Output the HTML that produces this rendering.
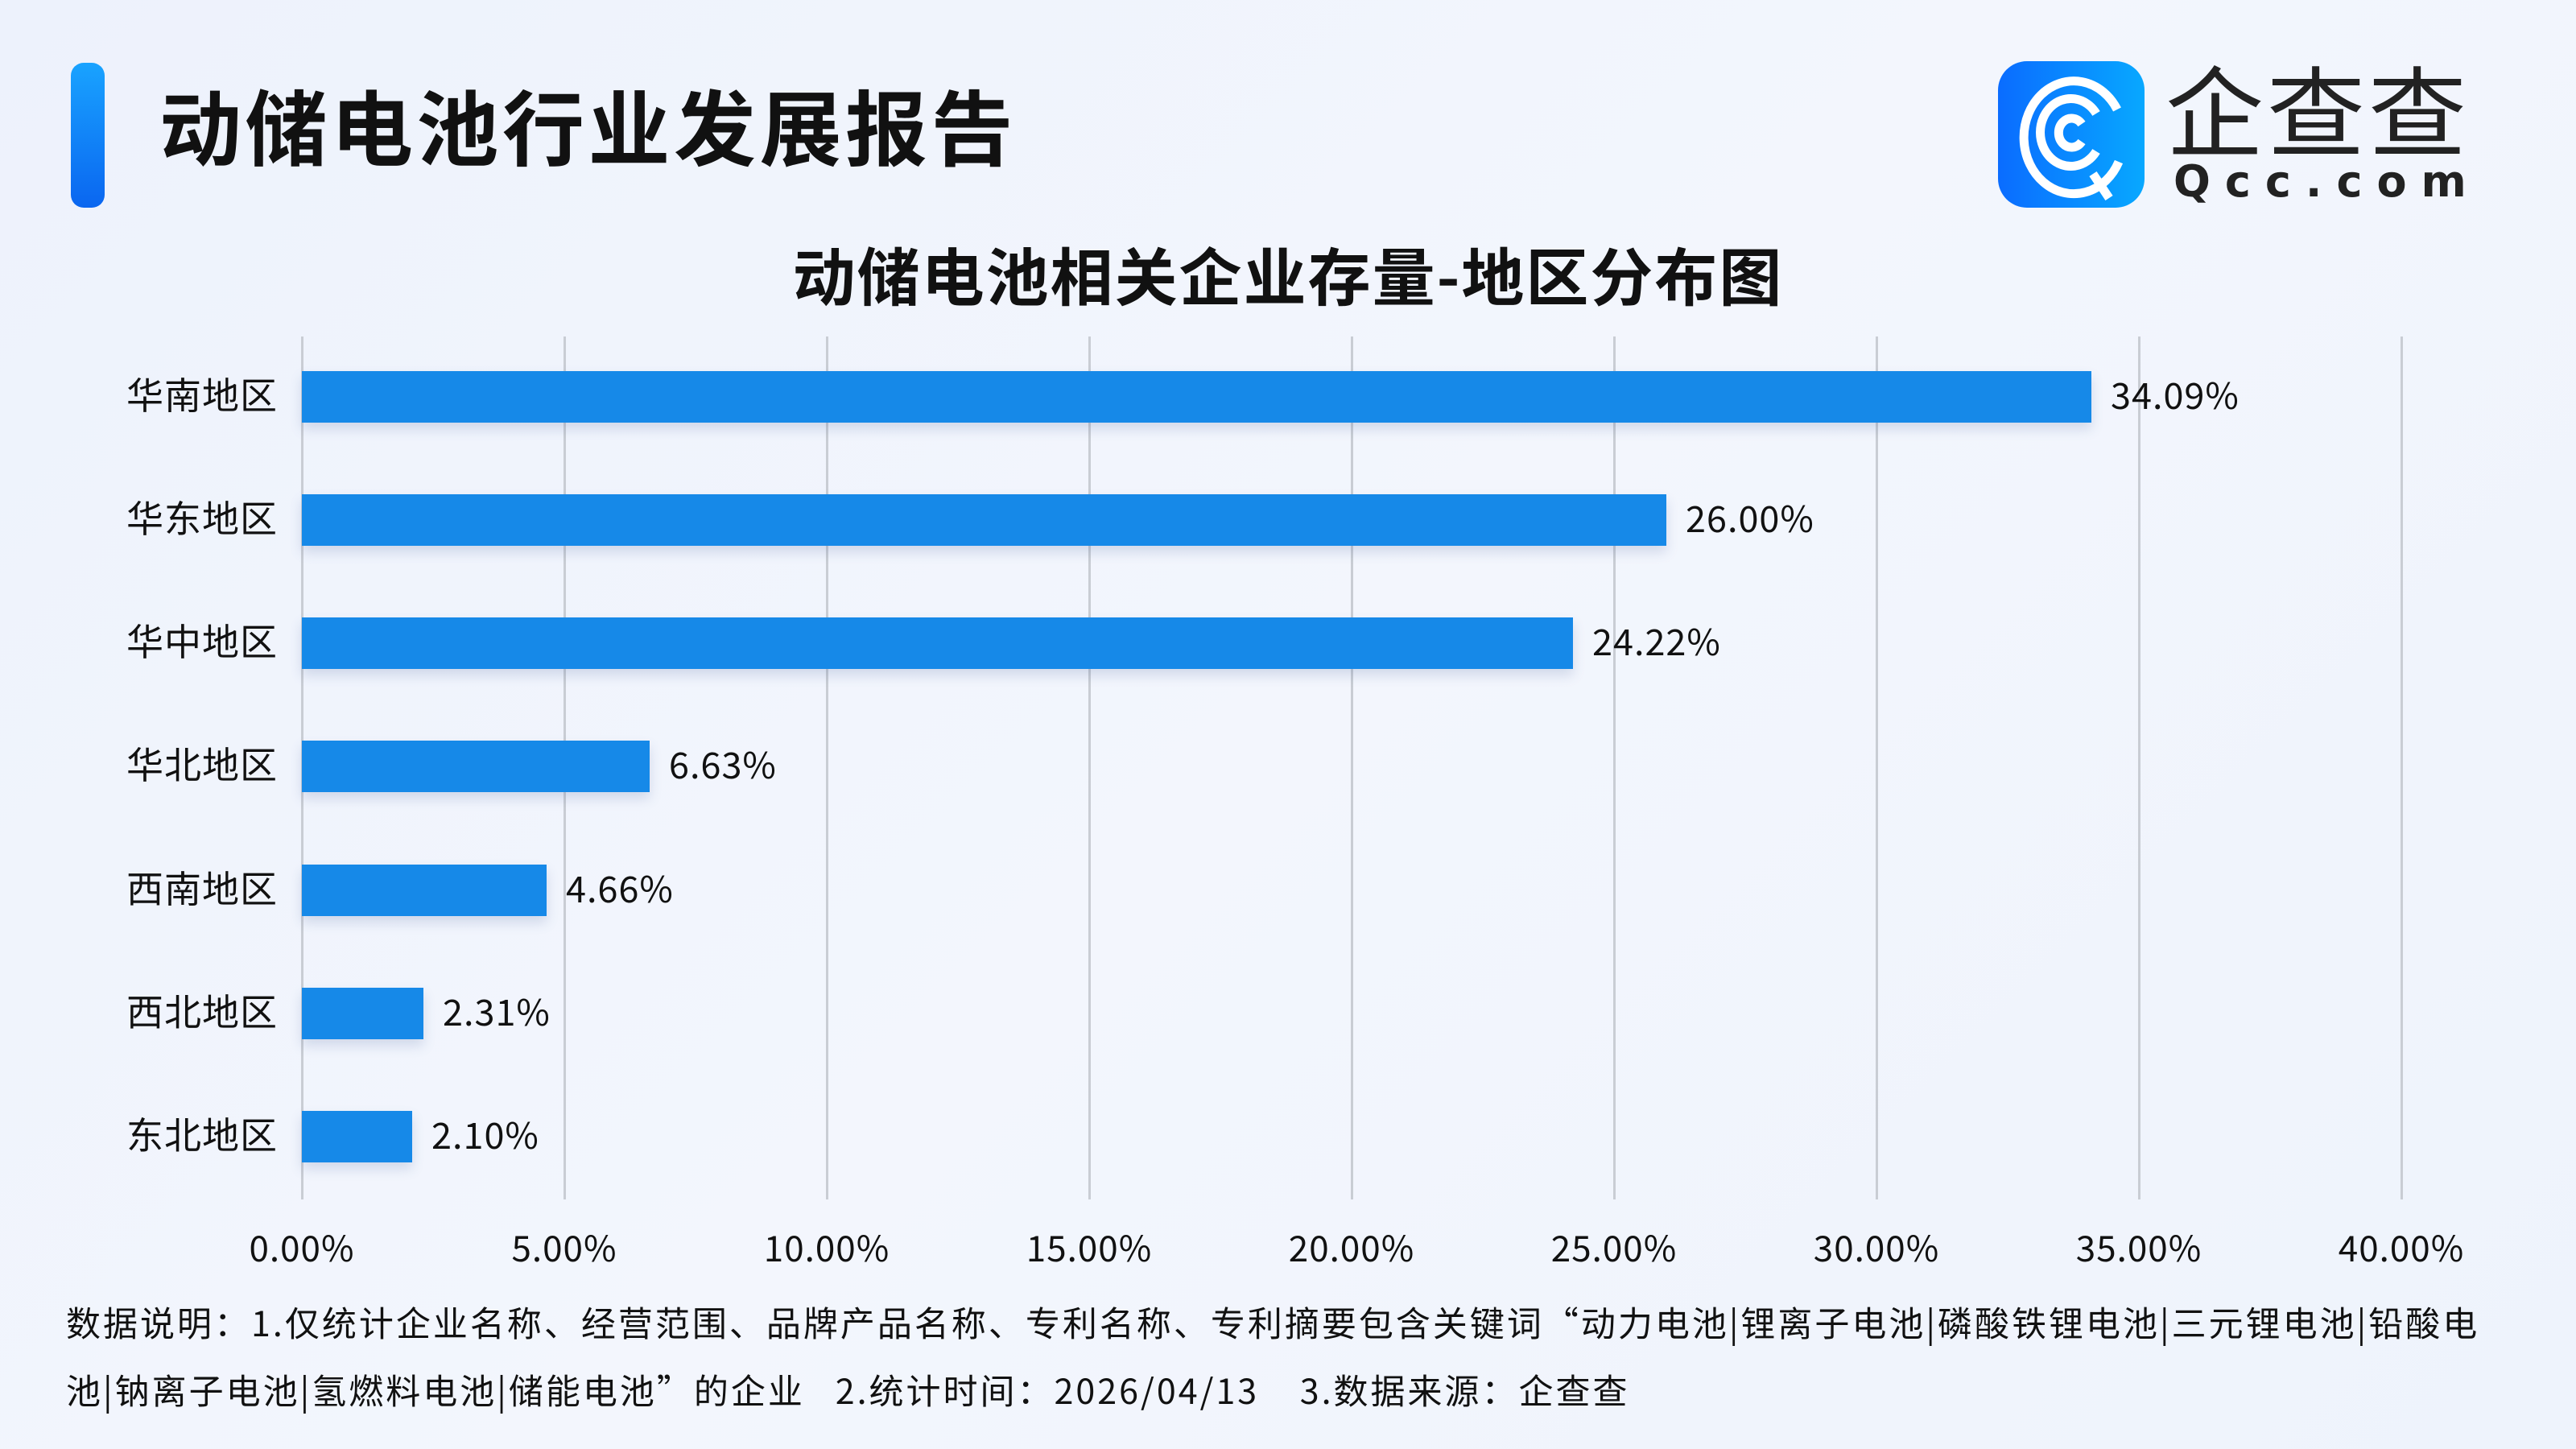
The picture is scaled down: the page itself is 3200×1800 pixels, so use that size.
<!DOCTYPE html>
<html><head><meta charset="utf-8"><style>
body{margin:0;width:3200px;height:1800px;overflow:hidden;background:linear-gradient(135deg,#edf2fc 0%,#f3f6fd 50%,#eef3fc 100%);font-family:"Noto Sans CJK SC","Liberation Sans",sans-serif;position:relative}
.a{position:absolute;white-space:nowrap}
.grid{position:absolute;top:418px;height:1072px;width:3px;background:#c9cdd4}
.bar{position:absolute;left:375px;height:64px;background:#1689e8;box-shadow:0 8px 14px rgba(60,90,150,0.18)}
.cat{position:absolute;right:2855px;font-size:46px;color:#111;line-height:64px;letter-spacing:1px}
.val{position:absolute;font-size:45px;color:#111;line-height:64px;letter-spacing:1px}
.tick{position:absolute;top:1516px;font-size:44px;color:#111;width:260px;text-align:center;letter-spacing:1px}
</style></head><body>
<div class="a" style="left:88px;top:78px;width:42px;height:180px;border-radius:16px;background:linear-gradient(180deg,#19a3ff,#0a66f0)"></div>
<div class="a" style="left:198px;top:90px;font-size:102px;font-weight:bold;color:#111;line-height:130px;letter-spacing:4.5px">动储电池行业发展报告</div>
<svg class="a" style="left:2482px;top:76px" width="182" height="182" viewBox="0 0 182 182"><defs><linearGradient id="g" x1="0" x2="1"><stop offset="0" stop-color="#0a6cff"/><stop offset="1" stop-color="#08a8ff"/></linearGradient></defs><rect width="182" height="182" rx="36" fill="url(#g)"/><g fill="none" stroke="#fff" stroke-width="11"><path d="M150 125 A62 70 0 1 1 148 60"/><path d="M122 112 A38 42 0 1 1 122 65"/><path d="M104 100 A16 18 0 1 1 104 78"/><path d="M118 140 L138 170"/></g></svg>
<div class="a" style="left:2690px;top:68px;font-size:122px;color:#222;letter-spacing:4px;line-height:130px">企查查</div>
<div class="a" style="left:2700px;top:196px;font-size:54px;color:#222;letter-spacing:18px;line-height:60px;font-family:'DejaVu Sans',sans-serif;font-weight:bold">Qcc.com</div>
<div class="a" style="left:0;width:3200px;text-align:center;top:290px;font-size:78px;font-weight:bold;color:#111;line-height:100px;letter-spacing:2px">动储电池相关企业存量-地区分布图</div>
<div class="grid" style="left:374px"></div><div class="grid" style="left:700px"></div><div class="grid" style="left:1026px"></div><div class="grid" style="left:1352px"></div><div class="grid" style="left:1678px"></div><div class="grid" style="left:2004px"></div><div class="grid" style="left:2330px"></div><div class="grid" style="left:2656px"></div><div class="grid" style="left:2982px"></div>
<div class="bar" style="top:461px;width:2223px"></div><div class="cat" style="top:457px">华南地区</div><div class="val" style="top:457px;left:2622px">34.09%</div>
<div class="bar" style="top:614px;width:1695px"></div><div class="cat" style="top:610px">华东地区</div><div class="val" style="top:610px;left:2094px">26.00%</div>
<div class="bar" style="top:767px;width:1579px"></div><div class="cat" style="top:763px">华中地区</div><div class="val" style="top:763px;left:1978px">24.22%</div>
<div class="bar" style="top:920px;width:432px"></div><div class="cat" style="top:916px">华北地区</div><div class="val" style="top:916px;left:831px">6.63%</div>
<div class="bar" style="top:1074px;width:304px"></div><div class="cat" style="top:1070px">西南地区</div><div class="val" style="top:1070px;left:703px">4.66%</div>
<div class="bar" style="top:1227px;width:151px"></div><div class="cat" style="top:1223px">西北地区</div><div class="val" style="top:1223px;left:550px">2.31%</div>
<div class="bar" style="top:1380px;width:137px"></div><div class="cat" style="top:1376px">东北地区</div><div class="val" style="top:1376px;left:536px">2.10%</div>
<div class="tick" style="left:245px">0.00%</div><div class="tick" style="left:571px">5.00%</div><div class="tick" style="left:897px">10.00%</div><div class="tick" style="left:1223px">15.00%</div><div class="tick" style="left:1549px">20.00%</div><div class="tick" style="left:1875px">25.00%</div><div class="tick" style="left:2201px">30.00%</div><div class="tick" style="left:2527px">35.00%</div><div class="tick" style="left:2853px">40.00%</div>
<div class="a" style="left:82px;top:1612px;font-size:43px;color:#111;line-height:60px;letter-spacing:3px">数据说明：1.仅统计企业名称、经营范围、品牌产品名称、专利名称、专利摘要包含关键词“动力电池|锂离子电池|磷酸铁锂电池|三元锂电池|铅酸电</div>
<div class="a" style="left:82px;top:1696px;font-size:43px;color:#111;line-height:60px;letter-spacing:3px">池|钠离子电池|氢燃料电池|储能电池”的企业&nbsp;&nbsp;&nbsp;2.统计时间：2026/04/13&nbsp;&nbsp;&nbsp;&nbsp;3.数据来源：企查查</div>
</body></html>
